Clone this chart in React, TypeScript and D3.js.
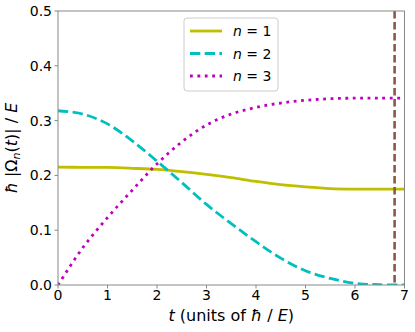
import React from 'react';
import * as d3 from 'd3';

// time samples (units of hbar / E)
const times = [0, 0.5, 1, 1.5, 2, 2.5, 3, 3.5, 4, 4.5, 5, 5.5, 6, 6.5, 7];
const omega1 = [0.215, 0.2148, 0.2145, 0.213, 0.211, 0.207, 0.202, 0.196, 0.189, 0.183, 0.179, 0.176, 0.175, 0.175, 0.175];
const omega2 = [0.318, 0.312, 0.294, 0.263, 0.226, 0.187, 0.147, 0.112, 0.079, 0.049, 0.026, 0.012, 0.003, 0.0005, 0.0002];
const omega3 = [0, 0.068, 0.123, 0.173, 0.221, 0.261, 0.292, 0.312, 0.324, 0.332, 0.337, 0.34, 0.341, 0.341, 0.341];
const tMarker = 6.8;

const xTicks = [0, 1, 2, 3, 4, 5, 6, 7];
const yTicks = [0, 0.1, 0.2, 0.3, 0.4, 0.5];

const series = [
  { label: '1', values: omega1, color: '#bfbf00', dash: 'none' },
  { label: '2', values: omega2, color: '#00bfbf', dash: '10.3 4.4' },
  { label: '3', values: omega3, color: '#bf00bf', dash: '2.8 4.6' },
];

const width = 415;
const height = 332;
const margin = { left: 58, right: 10.5, top: 11, bottom: 47 };

const x = d3.scaleLinear().domain([0, 7]).range([margin.left, width - margin.right]);
const y = d3.scaleLinear().domain([0, 0.5]).range([height - margin.bottom, margin.top]);

const font = 'DejaVu Sans, sans-serif';
const spine = '#888';

export default function App() {
  const line = (vals: number[]) =>
    d3
      .line<number>()
      .x((d, i) => x(times[i]))
      .y(d => y(d))
      .curve(d3.curveCatmullRom.alpha(0.5))(vals) || '';

  const fmt = d3.format('.1f');
  const x0 = x(0);
  const x1 = x(7);
  const y0 = y(0);
  const y1 = y(0.5);

  return (
    <svg
      width={width}
      height={height}
      style={{ position: 'absolute', left: 0, top: 0, background: '#fff' }}
      fontFamily={font}
    >
      <defs>
        <clipPath id="plotArea">
          <rect x={x0} y={y1} width={x1 - x0} height={y0 - y1} />
        </clipPath>
      </defs>

      {/* curves */}
      <g clipPath="url(#plotArea)">
        {series.map(s => (
          <path
            key={s.label}
            d={line(s.values)}
            fill="none"
            stroke={s.color}
            strokeWidth={2.8}
            strokeDasharray={s.dash}
          />
        ))}
        <line
          x1={x(tMarker)}
          x2={x(tMarker)}
          y1={y1}
          y2={y0}
          stroke="#8c564b"
          strokeWidth={2.6}
          strokeDasharray="7.5 3.5"
        />
      </g>

      {/* spines */}
      <rect x={x0} y={y1} width={x1 - x0} height={y0 - y1} fill="none" stroke={spine} strokeWidth={1} />

      {/* x axis */}
      {xTicks.map(t => (
        <g key={'x' + t}>
          <line x1={x(t)} x2={x(t)} y1={y0} y2={y0 + 3.5} stroke={spine} />
          <text x={x(t)} y={y0 + 15} fontSize={14} textAnchor="middle" fill="#000">
            {t}
          </text>
        </g>
      ))}

      {/* y axis */}
      {yTicks.map(t => (
        <g key={'y' + t}>
          <line x1={x0 - 3.5} x2={x0} y1={y(t)} y2={y(t)} stroke={spine} />
          <text x={x0 - 6} y={y(t) + 5} fontSize={14} textAnchor="end" fill="#000">
            {fmt(t)}
          </text>
        </g>
      ))}

      {/* axis labels */}
      <text x={(x0 + x1) / 2} y={321} fontSize={16} textAnchor="middle" fill="#000">
        <tspan fontStyle="italic">t</tspan> (units of <tspan fontStyle="italic">ħ</tspan> /{' '}
        <tspan fontStyle="italic">E</tspan>)
      </text>
      <text
        transform={`translate(17,${(y0 + y1) / 2}) rotate(-90)`}
        fontSize={16}
        textAnchor="middle"
        fill="#000"
      >
        <tspan fontStyle="italic">ħ</tspan> |Ω
        <tspan fontStyle="italic" fontSize={11} dy={3}>
          n
        </tspan>
        <tspan dy={-3}>(</tspan>
        <tspan fontStyle="italic">t</tspan>)| / <tspan fontStyle="italic">E</tspan>
      </text>

      {/* legend */}
      <g>
        <rect x={184} y={18} width={94} height={73} rx={3} fill="#fff" fillOpacity={0.8} stroke="#ccc" />
        {series.map((s, i) => {
          const ly = 31 + i * 22.5;
          return (
            <g key={'leg' + s.label}>
              <line
                x1={190}
                x2={222}
                y1={ly}
                y2={ly}
                stroke={s.color}
                strokeWidth={2.8}
                strokeDasharray={s.dash}
              />
              <text x={233} y={ly + 5} fontSize={14} fill="#000">
                <tspan fontStyle="italic">n</tspan> = {s.label}
              </text>
            </g>
          );
        })}
      </g>
    </svg>
  );
}
